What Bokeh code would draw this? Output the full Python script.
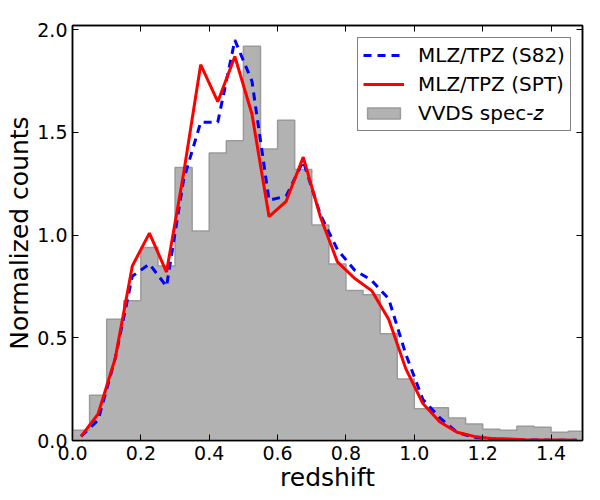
from bokeh.plotting import figure
from bokeh.models import Legend, LegendItem, LinearAxis, FixedTicker, Range1d, CustomJSTickFormatter
from bokeh.embed import file_html
from bokeh.resources import INLINE

bin_edges = [round(i * 0.05, 2) for i in range(31)]
vvds = [0.05, 0.22, 0.59, 0.68, 0.94, 0.85, 1.33, 1.02, 1.40, 1.46, 1.92, 1.42, 1.56, 1.32, 1.05,
        0.86, 0.73, 0.71, 0.52, 0.30, 0.155, 0.16, 0.11, 0.08, 0.055, 0.05, 0.07, 0.065, 0.04, 0.045]
z_centers = [round(0.025 + i * 0.05, 3) for i in range(30)]
s82 = [0.02, 0.10, 0.40, 0.80, 0.86, 0.75, 1.27, 1.55, 1.55, 1.95, 1.75, 1.17, 1.19, 1.36, 1.10,
       0.93, 0.83, 0.78, 0.69, 0.42, 0.20, 0.11, 0.04, 0.015, 0.008, 0.005, 0.003, 0.002, 0.001, 0.001]
spt = [0.02, 0.13, 0.40, 0.85, 1.01, 0.82, 1.30, 1.83, 1.65, 1.87, 1.59, 1.09, 1.165, 1.38, 1.09,
       0.87, 0.79, 0.73, 0.59, 0.35, 0.18, 0.09, 0.04, 0.02, 0.01, 0.007, 0.004, 0.002, 0.002, 0.001]
x_ticks = [0.0, 0.2, 0.4, 0.6, 0.8, 1.0, 1.2, 1.4]
y_ticks = [0.0, 0.5, 1.0, 1.5, 2.0]

FONT = "DejaVu Sans"
p = figure(width=590, height=495, output_backend="svg", toolbar_location=None,
           x_range=Range1d(0, 1.492), y_range=Range1d(0, 2.021),
           min_border_left=72, min_border_right=8, min_border_top=25, min_border_bottom=55)
p.grid.visible = False
p.outline_line_color = "black"
p.outline_line_width = 1.5

FILL, EDGE = "#b2b2b2", "#9a9a9a"
p.varea_step(x=bin_edges, y1=[0] * 31, y2=vvds + vvds[-1:], step_mode="after", fill_color=FILL)
p.step(bin_edges, vvds + vvds[-1:], mode="after", line_color=EDGE, line_width=1.5)
nan = float("nan")
hist_key = p.quad(left=[nan], right=[nan], bottom=[nan], top=[nan],
                  fill_color=FILL, line_color=EDGE, line_width=1.5)
r1 = p.line(z_centers, s82, line_color="#0000ff", line_width=3, line_dash="8 6")
r2 = p.line(z_centers, spt, line_color="#ff0000", line_width=3)

def style(ax, labels=True):
    ax.major_tick_in = 6
    ax.major_tick_out = 0
    ax.minor_tick_line_color = None
    ax.axis_line_color = "black"
    ax.axis_line_width = 1.5
    ax.major_tick_line_color = "black"
    ax.major_tick_line_width = 1
    if not labels:
        ax.major_label_text_font_size = "0px"
        ax.major_label_text_color = None
    else:
        ax.major_label_text_font = FONT
        ax.major_label_text_font_size = "19px"
        ax.major_label_text_color = "black"
        ax.major_label_standoff = 5

p.xaxis.ticker = FixedTicker(ticks=x_ticks)
p.yaxis.ticker = FixedTicker(ticks=y_ticks)
style(p.xaxis[0])
style(p.yaxis[0])
p.xaxis[0].formatter = CustomJSTickFormatter(code="return tick.toFixed(1)")
p.yaxis[0].formatter = CustomJSTickFormatter(code="return tick.toFixed(1)")
p.xaxis.axis_label = "redshift"
p.yaxis.axis_label = "Normalized counts"
for ax in (p.xaxis[0], p.yaxis[0]):
    ax.axis_label_text_font = FONT
    ax.axis_label_text_font_size = "25px"
    ax.axis_label_text_font_style = "normal"
    ax.axis_label_text_color = "black"
    ax.axis_label_standoff = 0

top = LinearAxis(ticker=FixedTicker(ticks=x_ticks))
right = LinearAxis(ticker=FixedTicker(ticks=y_ticks))
style(top, False)
style(right, False)
p.add_layout(top, "above")
p.add_layout(right, "right")

legend = Legend(items=[LegendItem(label="MLZ/TPZ (S82)", renderers=[r1]),
                       LegendItem(label="MLZ/TPZ (SPT)", renderers=[r2]),
                       LegendItem(label="VVDS spec-\U0001D467", renderers=[hist_key])],
                location=(285, 309), border_line_color="black", border_line_width=1.5,
                background_fill_alpha=1, label_text_font=FONT, label_text_font_size="20px",
                label_text_color="black",
                glyph_width=41, glyph_height=14, spacing=5, padding=5, margin=0,
                label_standoff=14, label_height=20)
p.add_layout(legend, "center")

open("out.html", "w").write(file_html(p, INLINE))
